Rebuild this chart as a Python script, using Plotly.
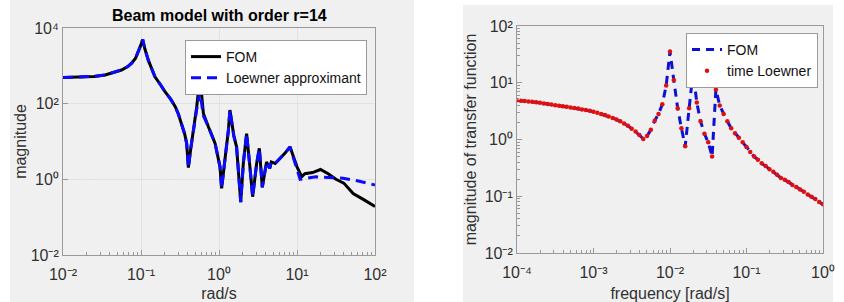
import plotly.graph_objects as go

# ---------------- Left panel: Beam model with order r=14 ----------------
beam_freq = [0.01, 0.0158, 0.0251, 0.0347, 0.0447, 0.0562, 0.0676, 0.0759, 0.0851, 0.0923,
             0.1, 0.105, 0.112, 0.124, 0.138, 0.151, 0.178, 0.204, 0.240, 0.275,
             0.302, 0.331, 0.363, 0.385, 0.405, 0.437, 0.468, 0.518, 0.570, 0.631,
             0.731, 0.891, 1.03, 1.08, 1.19, 1.32, 1.38, 1.55, 1.68, 1.77,
             1.90, 2.05, 2.26, 2.49, 2.70, 3.04, 3.29, 3.59, 4.07, 4.47,
             4.68, 5.25, 6.03, 7.08, 8.13, 9.12, 10.0, 11.5, 12.6, 15.8,
             20.0, 25.1, 31.6, 39.8, 52.5, 70.8, 100.0]
beam_fom = [490, 501, 525, 575, 661, 776, 955, 1175, 1585, 2344,
            3631, 5012, 2818, 1413, 832, 513, 316, 204, 132, 83.2,
            52.5, 30.2, 15.8, 8.91, 2.04, 7.08, 20.0, 83.2, 501, 55.0,
            24.5, 8.91, 2.14, 0.575, 3.24, 20.0, 67.6, 14.1, 7.24, 1.74,
            0.251, 2.63, 16.2, 2.14, 0.347, 2.63, 6.61, 0.617, 2.88, 1.95,
            2.88, 2.63, 3.55, 5.01, 7.24, 3.55, 2.14, 1.17, 1.41, 1.51,
            1.82, 1.41, 1.0, 0.794, 0.42, 0.295, 0.191]

loew_freq = [0.01, 0.0158, 0.0251, 0.0347, 0.0447, 0.0562, 0.0676, 0.0759, 0.0851, 0.0923,
             0.1, 0.105, 0.112, 0.124, 0.138, 0.151, 0.178, 0.204, 0.240, 0.275,
             0.302, 0.331, 0.363, 0.385, 0.405, 0.437, 0.468, 0.518, 0.570, 0.631,
             0.731, 0.891, 1.03, 1.08, 1.19, 1.32, 1.38, 1.55, 1.68, 1.77,
             1.90, 2.05, 2.26, 2.49, 2.70, 3.04, 3.29, 3.59, 4.07, 4.47,
             4.68, 5.25, 6.03, 7.08, 8.13, 9.12, 10.0, 10.96, 12.6, 17.4,
             25.1, 38.9, 63.1, 100.0]
loew_mag = [490, 501, 525, 575, 661, 776, 955, 1175, 1585, 2344,
            3631, 5012, 2818, 1413, 832, 513, 316, 204, 132, 83.2,
            52.5, 30.2, 15.8, 8.91, 2.04, 7.08, 20.0, 70.8, 200, 47.9,
            24.5, 8.91, 2.14, 0.575, 3.24, 20.0, 67.6, 14.1, 7.24, 1.74,
            0.251, 2.63, 16.2, 2.14, 0.347, 2.63, 6.61, 0.617, 2.88, 1.95,
            2.88, 2.63, 3.55, 5.01, 7.24, 3.55, 2.0, 1.0, 1.05, 1.17,
            1.12, 1.07, 0.89, 0.71]

left_xticks = [0.01, 0.1, 1, 10, 100]
left_xtext = ["10⁻²", "10⁻¹", "10⁰", "10¹", "10²"]
left_yticks = [0.01, 1, 100, 10000]
left_ytext = ["10⁻²", "10⁰", "10²", "10⁴"]

# ---------------- Right panel: time Loewner ----------------
tl_freq = [1.00e-4, 1.12e-4, 1.26e-4, 1.41e-4, 1.58e-4, 1.78e-4, 2.00e-4, 2.24e-4, 2.51e-4, 2.82e-4,
           3.16e-4, 3.55e-4, 3.98e-4, 4.47e-4, 5.01e-4, 5.62e-4, 6.31e-4, 7.08e-4, 7.94e-4, 8.91e-4,
           1.00e-3, 1.12e-3, 1.26e-3, 1.41e-3, 1.58e-3, 1.78e-3, 2.00e-3, 2.24e-3, 2.51e-3, 2.82e-3,
           3.16e-3, 3.55e-3, 3.98e-3, 4.47e-3, 5.01e-3, 5.62e-3, 6.31e-3, 7.08e-3, 7.94e-3, 8.91e-3,
           1.00e-2, 1.12e-2, 1.26e-2, 1.41e-2, 1.58e-2, 1.78e-2, 2.00e-2, 2.24e-2, 2.51e-2, 2.82e-2,
           3.16e-2, 3.55e-2, 3.98e-2, 4.47e-2, 5.01e-2, 5.62e-2, 6.31e-2, 7.08e-2, 7.94e-2, 8.91e-2,
           1.00e-1, 1.12e-1, 1.26e-1, 1.41e-1, 1.58e-1, 1.78e-1, 2.00e-1, 2.24e-1, 2.51e-1, 2.82e-1,
           3.16e-1, 3.55e-1, 3.98e-1, 4.47e-1, 5.01e-1, 5.62e-1, 6.31e-1, 7.08e-1, 7.94e-1, 8.91e-1,
           1.00]
tl_mag = [4.9, 4.84, 4.79, 4.68, 4.62, 4.52, 4.42, 4.32, 4.22, 4.12,
          4.03, 3.94, 3.85, 3.76, 3.67, 3.59, 3.51, 3.39, 3.31, 3.20,
          3.09, 2.95, 2.82, 2.69, 2.54, 2.40, 2.24, 2.09, 1.91, 1.74,
          1.55, 1.38, 1.20, 1.02, 1.15, 1.48, 2.14, 2.82, 4.17, 8.9,
          35.5, 11.2, 3.55, 1.58, 0.76, 3.55, 15.8, 4.47, 2.09, 1.26,
          0.89, 0.50, 7.6, 3.98, 2.82, 2.09, 1.58, 1.29, 1.07, 0.89,
          0.74, 0.60, 0.50, 0.44, 0.38, 0.34, 0.30, 0.27, 0.24, 0.21,
          0.195, 0.178, 0.158, 0.145, 0.132, 0.120, 0.107, 0.098, 0.089, 0.079,
          0.072]

right_xticks = [1e-4, 1e-3, 1e-2, 1e-1, 1]
right_xtext = ["10⁻⁴", "10⁻³", "10⁻²", "10⁻¹", "10⁰"]
right_yticks = [1e-2, 1e-1, 1, 10, 100]
right_ytext = ["10⁻²", "10⁻¹", "10⁰", "10¹", "10²"]

W, H = 844, 302
FONT = "Liberation Sans, Arial, sans-serif"
AX = "#9a9a9a"
TXT = "#303030"


def px(x):
    return x / W


def py(y):
    return 1 - y / H


def minor_vals(e0, e1):
    return [m * 10 ** e for e in range(e0, e1) for m in range(2, 10)]


fig = go.Figure()

fig.add_trace(go.Scatter(x=beam_freq, y=beam_fom, mode="lines", name="FOM",
                         line=dict(color="#000000", width=3),
                         xaxis="x", yaxis="y", legend="legend"))
fig.add_trace(go.Scatter(x=loew_freq, y=loew_mag, mode="lines", name="Loewner approximant",
                         line=dict(color="#0a0aff", width=3, dash="10px,6px"),
                         xaxis="x", yaxis="y", legend="legend"))

fig.add_trace(go.Scatter(x=tl_freq, y=tl_mag, mode="lines", name="FOM",
                         line=dict(color="#1010d0", width=3, dash="8px,6px"),
                         xaxis="x2", yaxis="y2", legend="legend2"))
fig.add_trace(go.Scatter(x=tl_freq, y=tl_mag, mode="markers", name="time Loewner",
                         marker=dict(color="#e01010", size=4.5),
                         xaxis="x2", yaxis="y2", legend="legend2"))

xcommon = dict(type="log", showline=True, mirror=True, linecolor=AX, linewidth=1,
               ticks="inside", ticklen=5, tickcolor=AX, tickmode="array", automargin=False,
               ticklabelstandoff=5,
               tickfont=dict(family=FONT, size=16, color=TXT), zeroline=False)
ycommon = dict(type="log", showline=True, mirror=True, linecolor=AX, linewidth=1,
               ticks="inside", ticklen=5, tickcolor=AX, tickmode="array", automargin=False,
               tickfont=dict(family=FONT, size=16, color=TXT), zeroline=False)

fig.update_layout(
    width=W, height=H, autosize=False,
    margin=dict(l=0, r=0, t=0, b=0),
    paper_bgcolor="white", plot_bgcolor="white",
    font=dict(family=FONT, color=TXT),
    xaxis=dict(xcommon, domain=[px(63), px(375)], anchor="y", range=[-2, 2],
               tickvals=left_xticks, ticktext=left_xtext,
               showgrid=True, gridcolor="#e2e2e2",
               minor=dict(tickmode="array", tickvals=minor_vals(-2, 2), ticks="inside", ticklen=3,
                          tickcolor=AX, showgrid=True, gridcolor="#efefef"),
               title=dict(text="rad/s", font=dict(family=FONT, size=16, color=TXT), standoff=8)),
    yaxis=dict(ycommon, domain=[py(255), py(28)], anchor="x", range=[-2, 4],
               tickvals=left_yticks, ticktext=left_ytext,
               showgrid=True, gridcolor="#e2e2e2",
               title=dict(text="magnitude", font=dict(family=FONT, size=16, color=TXT), standoff=0)),
    xaxis2=dict(xcommon, domain=[px(517), px(823)], anchor="y2", range=[-4, 0],
                tickvals=right_xticks, ticktext=right_xtext, showgrid=False,
                minor=dict(tickmode="array", tickvals=minor_vals(-4, 0), ticks="inside", ticklen=3,
                           tickcolor=AX, showgrid=False),
                title=dict(text="frequency [rad/s]", font=dict(family=FONT, size=16, color=TXT), standoff=7)),
    yaxis2=dict(ycommon, domain=[py(253), py(26)], anchor="x2", range=[-2, 2],
                tickvals=right_yticks, ticktext=right_ytext, showgrid=False,
                minor=dict(tickmode="array", tickvals=minor_vals(-2, 2), ticks="inside", ticklen=3,
                           tickcolor=AX, showgrid=False),
                title=dict(text="magnitude of transfer function", font=dict(family=FONT, size=16, color=TXT), standoff=4)),
    legend=dict(x=px(367), xanchor="right", y=py(40), yanchor="top",
                bgcolor="white", bordercolor=AX, borderwidth=1, itemwidth=30,
                font=dict(family=FONT, size=14, color="#111111"), tracegroupgap=0),
    legend2=dict(x=px(818), xanchor="right", y=py(33), yanchor="top",
                 bgcolor="white", bordercolor=AX, borderwidth=1, itemwidth=30,
                 font=dict(family=FONT, size=14, color="#111111"), tracegroupgap=0),
    shapes=[
        dict(type="rect", xref="paper", yref="paper", x0=px(10), x1=px(414), y0=0, y1=1,
             fillcolor="#f0f0f0", line=dict(width=0), layer="below"),
        dict(type="rect", xref="paper", yref="paper", x0=px(463), x1=px(833), y0=0, y1=py(5),
             fillcolor="#f0f0f0", line=dict(width=0), layer="below"),
    ],
    annotations=[
        dict(text="<b>Beam model with order r=14</b>", xref="paper", yref="paper",
             x=px(219), y=py(15), xanchor="center", yanchor="middle", showarrow=False,
             font=dict(family=FONT, size=16, color="#000000")),
    ],
)

fig.write_html("out.html", config={"displayModeBar": False},
               post_script="document.body.style.margin='0';")
